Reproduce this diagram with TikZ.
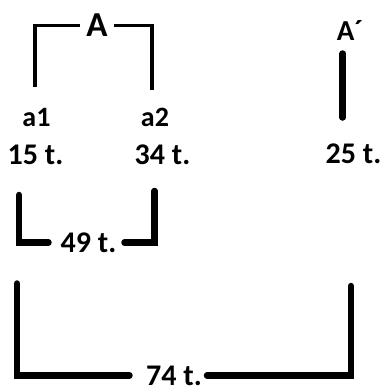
\documentclass[tikz,border=0pt]{standalone}
\usepackage{fontspec}
\setmainfont{Carlito}
\begin{document}
\begin{tikzpicture}[x=1pt,y=-1pt,
  lbl/.style={font=\fontsize{30}{31}\selectfont\bfseries, inner sep=0pt, anchor=base},
  small/.style={font=\fontsize{28}{29}\selectfont\bfseries},
  thinline/.style={line width=3.3pt, line cap=butt, line join=miter},
  thickline/.style={line width=6.5pt, line cap=round, line join=miter}]
\useasboundingbox (0,0) rectangle (382,389);
% labels
\node[lbl, font=\fontsize{35}{36}\selectfont\bfseries] (A) at (97,36.7) {A};
\node[lbl, font=\fontsize{29}{30}\selectfont\bfseries] (Ap) at (350,40.7) {A´};
\node[lbl, small] (a1) at (36.5,126.7) {a1};
\node[lbl, small] (a2) at (155,126.7) {a2};
\node[lbl] (n15) at (35.5,164) {15 t.};
\node[lbl] (n34) at (162.5,164) {34 t.};
\node[lbl] (n25) at (353.5,163.5) {25 t.};
\node[lbl] (n49) at (88.5,252.3) {49 t.};
\node[lbl] (n74) at (174,385) {74 t.};
% free ends
\coordinate (tA1) at (35,87);
\coordinate (tA2) at (152,90);
\coordinate (ap1) at (342.7,53.5);
\coordinate (ap2) at (342.7,117.5);
\coordinate (b49l) at (19,195);
\coordinate (b49r) at (154.5,191);
\coordinate (b74l) at (17,283.5);
\coordinate (b74r) at (351,286);
% brackets
\draw[thinline] (tA1) |- ([xshift=-6.5pt]A.west);
\draw[thinline] ([xshift=6pt]A.east) -| (tA2);
\draw[thickline] (ap1) -- (ap2);
\draw[thickline] (b49l) |- ([xshift=-12pt]n49.west);
\draw[thickline] ([xshift=8pt]n49.east) -| (b49r);
\draw[thickline] (b74l) |- ([xshift=-16.5pt]n74.west);
\draw[thickline] ([xshift=5pt]n74.east) -| (b74r);
\end{tikzpicture}
\end{document}
